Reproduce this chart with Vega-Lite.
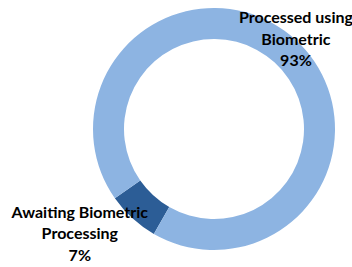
{
  "$schema": "https://vega.github.io/schema/vega-lite/v6.json",
  "autosize": "none",
  "width": 276,
  "height": 258,
  "padding": {"left": 76, "top": 0, "right": 0, "bottom": 9},
  "background": "white",
  "data": {"values": [
    {"status": "Awaiting Biometric Processing", "value": 7, "label": "Awaiting Biometric\nProcessing\n7%"},
    {"status": "Processed using Biometric", "value": 93, "label": "Processed using\nBiometric\n93%"}
  ]},
  "encoding": {
    "theta": {"field": "value", "type": "quantitative", "stack": true, "scale": {"range": [3.662, 9.945]}},
    "color": {"field": "status", "type": "nominal", "legend": null,
      "scale": {"domain": ["Awaiting Biometric Processing", "Processed using Biometric"], "range": ["#2C5D96", "#8DB4E2"]}}
  },
  "layer": [
    {"mark": {"type": "arc", "outerRadius": 121, "innerRadius": 90}},
    {
      "mark": {"type": "text", "radius": 120, "dx": 1, "dy": -22, "font": "Lato", "fontWeight": "bold", "fontSize": 16, "lineBreak": "\n", "lineHeight": 21.5, "align": "center", "baseline": "middle"},
      "encoding": {"text": {"condition": {"test": "datum.value > 50", "field": "label"}, "value": ""}, "color": {"value": "black"}}
    },
    {
      "mark": {"type": "text", "radius": 150, "dx": -33, "dy": -27, "font": "Lato", "fontWeight": "bold", "fontSize": 16, "lineBreak": "\n", "lineHeight": 21.5, "align": "center", "baseline": "middle"},
      "encoding": {"text": {"condition": {"test": "datum.value < 50", "field": "label"}, "value": ""}, "color": {"value": "black"}}
    }
  ]
}
